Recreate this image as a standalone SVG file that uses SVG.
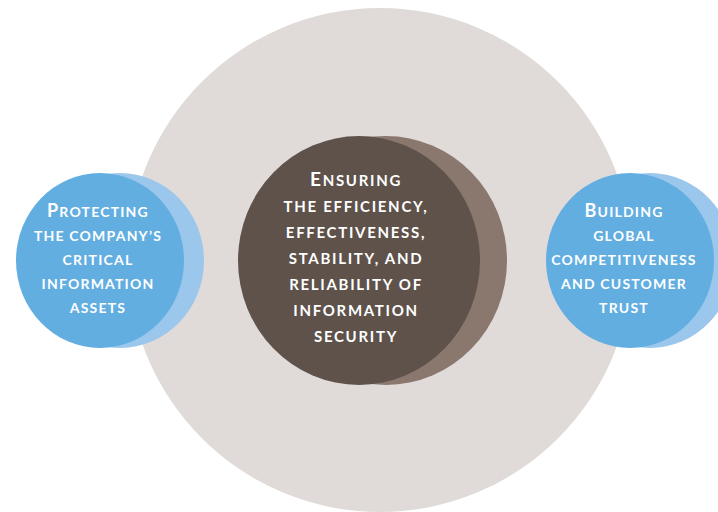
<svg xmlns="http://www.w3.org/2000/svg" width="718" height="512" viewBox="0 0 718 512">
<style>
.t{font-family:Lato,"Liberation Sans",sans-serif;font-weight:bold;fill:#fff;text-anchor:middle;letter-spacing:1.2px}
.c{font-size:15px;letter-spacing:1.7px}
.s{font-size:14px}
.big{font-size:19px}
.bigs{font-size:18px}
</style>
<rect width="718" height="512" fill="#fff"/>
<g id="background">
<circle cx="380" cy="260" r="252" fill="#e0dbd9"/>
</g>
<g id="connectors"></g>
<g id="node-center">
<ellipse cx="386" cy="260.5" rx="121" ry="124.5" fill="#8a786e"/>
<ellipse cx="359" cy="260.5" rx="121" ry="124.5" fill="#5e524b"/>
<text class="t c" x="356" y="186"><tspan class="big">E</tspan>NSURING</text>
<text class="t c" x="356" y="212">THE EFFICIENCY,</text>
<text class="t c" x="356" y="238">EFFECTIVENESS,</text>
<text class="t c" x="356" y="264">STABILITY, AND</text>
<text class="t c" x="356" y="290">RELIABILITY OF</text>
<text class="t c" x="356" y="316">INFORMATION</text>
<text class="t c" x="356" y="342">SECURITY</text>
</g>
<g id="node-left">
<ellipse cx="120" cy="260.5" rx="84" ry="87.5" fill="#9cc7ec"/>
<ellipse cx="100" cy="260.5" rx="84" ry="87.5" fill="#62aee1"/>
<text class="t s" x="98" y="217"><tspan class="bigs">P</tspan>ROTECTING</text>
<text class="t s" x="98" y="241">THE COMPANY’S</text>
<text class="t s" x="98" y="265">CRITICAL</text>
<text class="t s" x="98" y="289">INFORMATION</text>
<text class="t s" x="98" y="313">ASSETS</text>
</g>
<g id="node-right">
<ellipse cx="650" cy="260.5" rx="84" ry="87.5" fill="#9cc7ec"/>
<ellipse cx="630" cy="260.5" rx="84" ry="87.5" fill="#62aee1"/>
<text class="t s" x="624" y="217"><tspan class="bigs">B</tspan>UILDING</text>
<text class="t s" x="624" y="241">GLOBAL</text>
<text class="t s" x="624" y="265">COMPETITIVENESS</text>
<text class="t s" x="624" y="289">AND CUSTOMER</text>
<text class="t s" x="624" y="313">TRUST</text>
</g>
</svg>
